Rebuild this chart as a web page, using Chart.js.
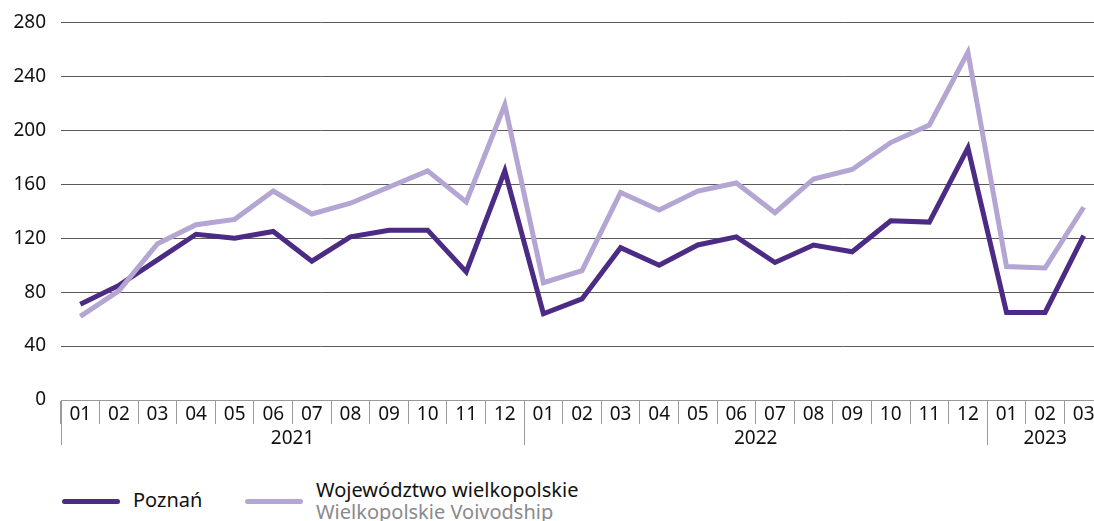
<!DOCTYPE html>
<html>
<head>
<meta charset="utf-8">
<script src="https://cdn.jsdelivr.net/npm/chart.js@4"></script>
<style>
  html, body { margin: 0; padding: 0; background: #fff; overflow: hidden; }
  body { width: 1094px; height: 521px; position: relative; font-family: "Noto Sans", sans-serif; }
  #wrap { position: absolute; left: 0; top: 0; width: 1104px; height: 455px; }
  .legend { position: absolute; top: 480px; left: 0; font-size: 20px; color: #111; }
  .item { position: absolute; white-space: nowrap; }
  .swatch { position: absolute; width: 58px; height: 5px; border-radius: 3px; }
  .sub { color: #8a8a8a; }
</style>
</head>
<body>
<div id="wrap"><canvas id="chart"></canvas></div>
<div class="legend">
  <div class="swatch" style="left:62px; top:19px; background:#4b2b84"></div>
  <div class="item" style="left:133px; top:6px">Poznań</div>
  <div class="swatch" style="left:245px; top:19px; background:#b4a5d2"></div>
  <div class="item" style="left:316px; top:-1px; line-height:22px">Województwo wielkopolskie<br><span class="sub">Wielkopolskie Voivodship</span></div>
</div>
<script>
const months = ['01','02','03','04','05','06','07','08','09','10','11','12',
                '01','02','03','04','05','06','07','08','09','10','11','12',
                '01','02','03'];
const years = ['2021', '2022', '2023'];
const yearStart = [0, 12, 24];
const yearEnd = [11, 23, 26];

const poznan = [71, 85, 104, 123, 120, 125, 103, 121, 126, 126, 95, 170,
                64, 75, 113, 100, 115, 121, 102, 115, 110, 133, 132, 187,
                65, 65, 122];
const wielkopolskie = [62, 81, 116, 130, 134, 155, 138, 146, 158, 170, 147, 219,
                       87, 96, 154, 141, 155, 161, 139, 164, 171, 191, 204, 258,
                       99, 98, 143];

const yTicks = [0, 40, 80, 120, 160, 200, 240, 280];

const FONT = '"Noto Sans", sans-serif';

// second row of the x axis: year labels and the longer separators
const yearAxis = {
  id: 'yearAxis',
  afterDraw(chart) {
    const ctx = chart.ctx;
    const x = chart.scales.x;
    const half = (x.getPixelForValue(1) - x.getPixelForValue(0)) / 2;
    const top = chart.chartArea.bottom;
    ctx.save();
    ctx.strokeStyle = '#9a9a9a';
    ctx.lineWidth = 1;
    ctx.fillStyle = '#111';
    ctx.font = '19px ' + FONT;
    ctx.textAlign = 'center';
    ctx.textBaseline = 'middle';
    years.forEach((yr, i) => {
      const left = Math.round(x.getPixelForValue(yearStart[i]) - half) + 0.5;
      ctx.beginPath();
      ctx.moveTo(left, top);
      ctx.lineTo(left, top + 45);
      ctx.stroke();
      const mid = (x.getPixelForValue(yearStart[i]) + x.getPixelForValue(yearEnd[i])) / 2;
      ctx.fillText(yr, mid, top + 39);
    });
    ctx.restore();
  }
};

new Chart(document.getElementById('chart'), {
  type: 'line',
  data: {
    labels: months,
    datasets: [
      {
        label: 'Województwo wielkopolskie',
        data: wielkopolskie,
        borderColor: '#b4a5d2',
        borderWidth: 5,
        pointRadius: 0,
        tension: 0,
        borderJoinStyle: 'miter'
      },
      {
        label: 'Poznań',
        data: poznan,
        borderColor: '#4b2b84',
        borderWidth: 5,
        pointRadius: 0,
        tension: 0,
        borderJoinStyle: 'miter'
      }
    ]
  },
  options: {
    responsive: true,
    maintainAspectRatio: false,
    animation: false,
    layout: { padding: { top: 22, right: 1, left: 0, bottom: 0 } },
    plugins: {
      legend: { display: false },
      tooltip: { enabled: false }
    },
    scales: {
      x: {
        offset: true,
        grid: {
          offset: true,
          drawOnChartArea: false,
          tickLength: 24,
          color: '#9a9a9a'
        },
        border: { display: true, color: '#9a9a9a' },
        ticks: {
          color: '#111',
          font: { family: FONT, size: 19 },
          padding: -21,
          maxRotation: 0,
          autoSkip: false
        },
        afterFit(scale) { scale.height = 55; }
      },
      y: {
        min: 0,
        max: 280,
        afterBuildTicks(scale) { scale.ticks = yTicks.map(v => ({ value: v })); },
        grid: { color: '#5a5a5a', drawTicks: false },
        border: { display: false },
        ticks: {
          color: '#111',
          font: { family: FONT, size: 19, lineHeight: 0.8 },
          padding: 15
        },
        afterFit(scale) { scale.width = 61; }
      }
    }
  },
  plugins: [yearAxis]
});
</script>
</body>
</html>
